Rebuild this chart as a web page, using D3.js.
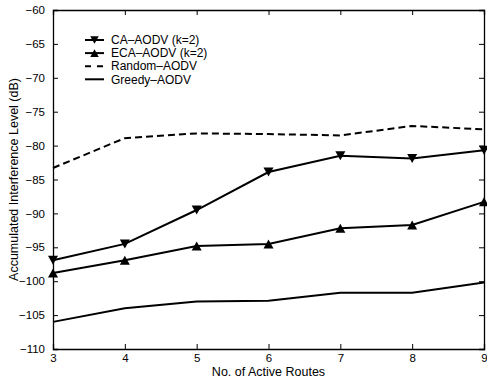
<!DOCTYPE html>
<html>
<head>
<meta charset="utf-8">
<script src="https://cdn.jsdelivr.net/npm/d3@7"></script>
<style>
  body { margin: 0; background: #fff; }
  text { font-family: "Liberation Sans", Arial, sans-serif; fill: #000; }
</style>
</head>
<body>
<div id="plot"></div>
<script>
const routes = [3, 4, 5, 6, 7, 8, 9];
const caAodv = [-96.9, -94.5, -89.5, -83.9, -81.5, -81.9, -80.7];
const ecaAodv = [-98.8, -96.9, -94.8, -94.5, -92.2, -91.7, -88.3];
const randomAodv = [-83.3, -78.9, -78.2, -78.3, -78.5, -77.1, -77.6];
const greedyAodv = [-106.0, -104.0, -103.0, -102.9, -101.7, -101.7, -100.2];
const yTicks = [-110, -105, -100, -95, -90, -85, -80, -75, -70, -65, -60];
const seriesNames = ["CA\u2013AODV (k=2)", "ECA\u2013AODV (k=2)", "Random\u2013AODV", "Greedy\u2013AODV"];

const svgWidth = 487, svgHeight = 381;
const margin = {top: 10, right: 3, bottom: 32, left: 53};
const width = svgWidth - margin.left - margin.right;
const height = svgHeight - margin.top - margin.bottom;

var svg = d3.select("#plot")
  .append("svg")
  .attr("width", svgWidth)
  .attr("height", svgHeight)
  .append("g")
  .attr("transform", "translate(" + margin.left + "," + margin.top + ")");

var x = d3.scaleLinear().domain([3, 9]).range([0, width]);
var y = d3.scaleLinear().domain([-110, -60]).range([height, 0]);

const fmt = d => d < 0 ? "\u2212" + Math.abs(d) : String(d);
const tk = 5;

// axes, ticks pointing inward like matlab
svg.append("g").attr("transform", "translate(0," + height + ")")
  .call(d3.axisBottom(x).tickValues(routes).tickSize(-tk).tickPadding(5).tickFormat(d3.format("d")));
svg.append("g")
  .call(d3.axisTop(x).tickValues(routes).tickSize(-tk).tickFormat(""));
svg.append("g")
  .call(d3.axisLeft(y).tickValues(yTicks).tickSize(-tk).tickPadding(8).tickFormat(fmt));
svg.append("g").attr("transform", "translate(" + width + ",0)")
  .call(d3.axisRight(y).tickValues(yTicks).tickSize(-tk).tickFormat(""));

svg.selectAll(".domain").attr("stroke", "#000").attr("stroke-width", 1.3);
svg.selectAll(".tick line").attr("stroke", "#000").attr("stroke-width", 1);
svg.selectAll(".tick text").style("font-size", "11.5px").attr("fill", "#000");

// labels
svg.append("text")
  .attr("x", width / 2)
  .attr("y", height + 27)
  .attr("text-anchor", "middle")
  .style("font-size", "12.5px")
  .text("No. of Active Routes");

svg.append("text")
  .attr("transform", "translate(" + (-35) + "," + (height / 2) + ") rotate(-90)")
  .attr("text-anchor", "middle")
  .style("font-size", "12.5px")
  .text("Accumulated Interference Level (dB)");

var line = d3.line()
  .x((d, i) => x(routes[i]))
  .y(d => y(d));

const series = [
  {vals: caAodv, dash: null, marker: "down"},
  {vals: ecaAodv, dash: null, marker: "up"},
  {vals: randomAodv, dash: "7,4", marker: null},
  {vals: greedyAodv, dash: null, marker: null}
];

function tri(dir, s) {
  var h = s * 0.9;
  if (dir == "down") return "M" + (-s/2) + "," + (-h/2) + "L" + (s/2) + "," + (-h/2) + "L0," + (h/2) + "Z";
  return "M" + (-s/2) + "," + (h/2) + "L" + (s/2) + "," + (h/2) + "L0," + (-h/2) + "Z";
}

series.forEach(function(s) {
  svg.append("path")
    .datum(s.vals)
    .attr("d", line)
    .attr("fill", "none")
    .attr("stroke", "#000")
    .attr("stroke-width", 2)
    .attr("stroke-dasharray", s.dash);
  if (s.marker) {
    svg.append("g").selectAll("path")
      .data(s.vals)
      .enter()
      .append("path")
      .attr("d", tri(s.marker, 10))
      .attr("transform", (d, i) => "translate(" + x(routes[i]) + "," + y(d) + ")")
      .attr("fill", "#000");
  }
});

// legend
var legend = svg.append("g").attr("transform", "translate(" + (85 - margin.left) + "," + (40 - margin.top) + ")");
series.forEach(function(s, i) {
  var g = legend.append("g").attr("transform", "translate(0," + (i * 13.1) + ")");
  g.append("line")
    .attr("x1", 0).attr("x2", 19).attr("y1", 0).attr("y2", 0)
    .attr("stroke", "#000").attr("stroke-width", 2)
    .attr("stroke-dasharray", s.dash ? "6,6" : null);
  if (s.marker) {
    g.append("path").attr("d", tri(s.marker, 8.5)).attr("transform", "translate(9.5,0)").attr("fill", "#000");
  }
  g.append("text")
    .attr("x", 26)
    .attr("y", 0)
    .attr("dy", "0.35em")
    .style("font-size", "12px")
    .text(seriesNames[i]);
});
</script>
</body>
</html>
